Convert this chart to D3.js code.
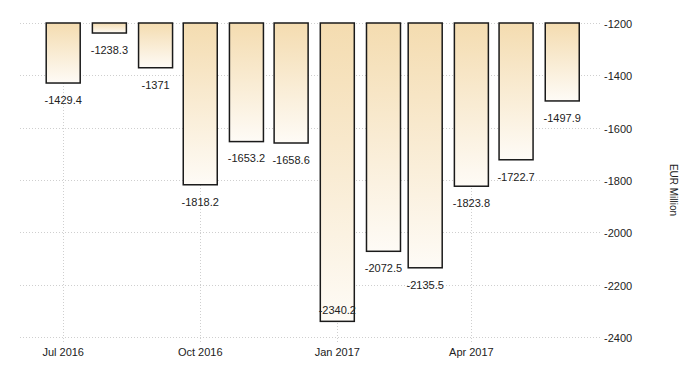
<!DOCTYPE html>
<html>
<head>
<meta charset="utf-8">
<script src="https://cdn.jsdelivr.net/npm/d3@7"></script>
<style>
  body { margin: 0; background: #fff; }
  svg text { font-family: "Liberation Sans", Arial, sans-serif; fill: #222; }
</style>
</head>
<body>
<svg id="chart" width="700" height="375"></svg>
<script>
// monthly values, EUR Million
const months = ["2016-07-01","2016-08-01","2016-09-01","2016-10-01","2016-11-01","2016-12-01",
                "2017-01-01","2017-02-01","2017-03-01","2017-04-01","2017-05-01","2017-06-01"];
const values = [-1429.4, -1238.3, -1371, -1818.2, -1653.2, -1658.6,
                -2340.2, -2072.5, -2135.5, -1823.8, -1722.7, -1497.9];
const labels = ["-1429.4","-1238.3","-1371","-1818.2","-1653.2","-1658.6",
                "-2340.2","-2072.5","-2135.5","-1823.8","-1722.7","-1497.9"];
const yTicks = [-1200, -1400, -1600, -1800, -2000, -2200, -2400];
const xTicks = ["2016-07-01","2016-10-01","2017-01-01","2017-04-01"];
const yTitle = "EUR Million";

const parse = d3.utcParse("%Y-%m-%d");
const data = months.map((m, i) => ({ date: parse(m), value: values[i], label: labels[i] }));

const svg = d3.select("#chart");
const plot = { left: 20, right: 598, top: 23, bottom: 337 };

const x = d3.scaleUtc()
    .domain([parse("2016-06-02"), parse("2017-06-25")])
    .range([plot.left, plot.right]);
const y = d3.scaleLinear().domain([-1200, -2400]).range([plot.top, plot.bottom]);
const barW = 34;

// gradient for bars
const grad = svg.append("defs").append("linearGradient")
    .attr("id", "barFill").attr("x1", 0).attr("y1", 0).attr("x2", 0).attr("y2", 1);
grad.append("stop").attr("offset", "0%").attr("stop-color", "#f4dcb0");
grad.append("stop").attr("offset", "100%").attr("stop-color", "#fefbf6");

// grid
const grid = svg.append("g").attr("stroke", "#cfcfcf").attr("stroke-dasharray", "1,2").attr("stroke-width", 1);
grid.selectAll("line.h").data(yTicks).enter().append("line")
    .attr("x1", plot.left).attr("x2", plot.right + 4)
    .attr("y1", d => Math.round(y(d)) + 0.5).attr("y2", d => Math.round(y(d)) + 0.5);
grid.selectAll("line.v").data(xTicks).enter().append("line")
    .attr("x1", d => Math.round(x(parse(d))) + 0.5).attr("x2", d => Math.round(x(parse(d))) + 0.5)
    .attr("y1", plot.top).attr("y2", plot.bottom + 5);

// bars
svg.append("g").selectAll("rect").data(data).enter().append("rect")
    .attr("x", d => x(d.date) - barW / 2)
    .attr("y", y(-1200))
    .attr("width", barW)
    .attr("height", d => y(d.value) - y(-1200))
    .attr("fill", "url(#barFill)")
    .attr("stroke", "#1a1a1a")
    .attr("stroke-width", 1.5);

// value labels
svg.append("g").selectAll("text").data(data).enter().append("text")
    .attr("x", d => x(d.date))
    .attr("y", d => {
        const b = y(d.value);
        return b + 17 > plot.bottom - 12 ? b - 11 : b + 17;
    })
    .attr("dy", "0.35em")
    .attr("text-anchor", "middle")
    .style("font-size", "11px")
    .text(d => d.label);

// right axis labels
svg.append("g").selectAll("text").data(yTicks).enter().append("text")
    .attr("x", 604)
    .attr("y", d => y(d) + 1)
    .attr("dy", "0.35em")
    .style("font-size", "11px")
    .text(d => d);

// x axis labels
svg.append("g").selectAll("text").data(xTicks).enter().append("text")
    .attr("x", d => x(parse(d)))
    .attr("y", 352)
    .attr("dy", "0.35em")
    .attr("text-anchor", "middle")
    .style("font-size", "11px")
    .text(d => d3.utcFormat("%b %Y")(parse(d)));

// axis title
svg.append("text")
    .attr("transform", "translate(670,190) rotate(90)")
    .attr("text-anchor", "middle")
    .style("font-size", "10px")
    .text(yTitle);
</script>
</body>
</html>
